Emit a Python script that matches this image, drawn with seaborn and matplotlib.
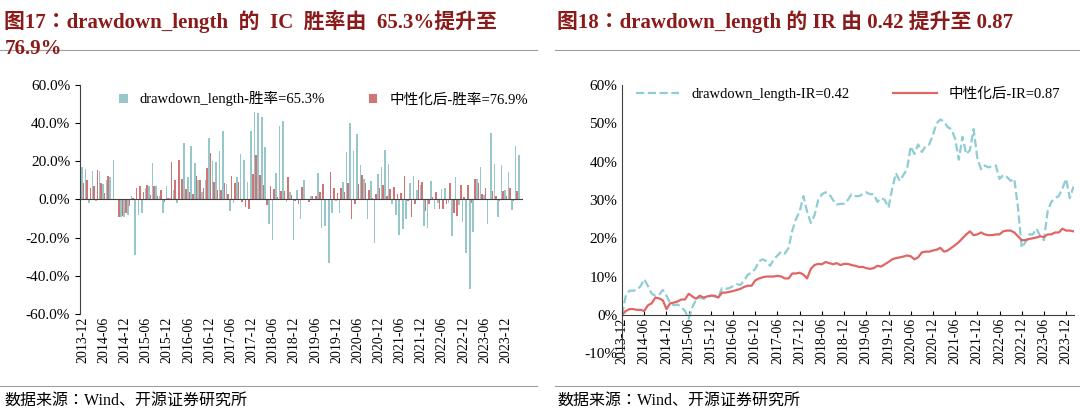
import matplotlib
matplotlib.use("Agg")
import matplotlib.pyplot as plt
from matplotlib import font_manager
import numpy as np
import pandas as pd
import seaborn as sns

# police CJK disponible (repli pour le chinois)
cjk = [f.name for f in font_manager.fontManager.ttflist if "CJK" in f.name]
cjk_name = "Noto Sans CJK SC" if "Noto Sans CJK SC" in cjk else (cjk[0] if cjk else "DejaVu Sans")
FONT = ["Liberation Serif", cjk_name]
plt.rcParams["font.family"] = FONT
plt.rcParams["axes.unicode_minus"] = False

BLUE = "#8ECDD4"
RED = "#E06565"
TITLE_COLOR = "#8B1A1A"

# ========== DONNEES ==========
# IC mensuel (%) - graphique de gauche
ic_raw = [17, 16, -2, 15, -1, 15, 8, 10, 12, 20.5, 0, -9, -9, -8, 2, -29, -8, -7, 6, 7,
          19, 7, 2, -7, 7, 1, 5, -2, 0, 29.5, 12, 28, 19, 10, 4, 10, 32.5, 20, 19.5, 25.5,
          36, 8, -6, -2, 12, 24, 20.5, 9, 36, 46, 45.5, 43.5, 27.5, -13, -21, 14, 38.5, 41, -1.5, 4,
          -21, 5, -10.5, 10, -0.5, 2, 0, 14, -15, -14, -33.5, -7, -1, -7, 9, 25, 40, 25.5, 34.5, 18,
          10.5, -10, 9.5, -23, 13.5, 17, 26, 18.5, -2.5, -8, -18.5, -15.5, -10, 8.5, 12.5, 5, 7.5, -14, -15, 9.5,
          -5, -2, 5.5, 6, -2, -19, 12, -3, -12, -28, -47, -17, 11, 17, 2.5, -13, 35, 18.5, -9, 18,
          5, 14.5, -5.5, 28, 23.5]
ic_neutral = [8.5, 10, 6, 7, 15.5, 8.5, 3.5, 12.5, 0, 0, -9, -8.5, -7, -3.5, 1, 6, 7, 4, 7.5, 2.5,
              7, 2, 5, -1.5, 1, 19.5, 10, 20.5, 11, 5.5, 4, 3, 12.5, 10, 6, 16.5, 24.5, 9, 5, 5,
              8.5, 3, 12.5, 8.5, 9, -1.5, -4, -5, 13.5, 23.5, 13, 7.5, -3, 7, 5.5, 1.5, 4.5, 4.5, 12, 2.5,
              -1, -2.5, 6.5, 0, -1.5, 2, 2, 4, 8, -0.5, 14.5, 6, 3.5, 6, 4, 8.5, -10.5, -2.5, 8, 13,
              8.5, 5, 1, 3, 6, 7.5, 2, 5.5, 6.5, 3, 3.5, 12.5, -1, -9, -2.5, 10, 9, -6, -2.5, 1.5,
              4, -5, -5, -2.5, 8.5, -7, -8.5, 7.5, 1.5, 7.5, -2, 11, 8.5, 3, 6, 0, 4.5, 2, -1, 4.5,
              2, 6, -1, 4.5, 0]

# Rendement cumule (%) - graphique de droite
ir_raw = [0, 5, 6.3, 6.3, 6.5, 7.5, 9.3, 7.5, 5.5, 5, 5.2, 6.5, 5,
          3, 2.5, 2.7, 2, 1, -1, 2, 4, 4.5, 4.2, 4.5, 5,
          4.8, 4.5, 7, 6.8, 7, 7.5, 8, 7.8, 9, 10.5, 11, 12,
          14, 14.5, 14, 12.8, 14.5, 15.5, 16.5, 16, 17.5, 22, 25, 27,
          31, 27, 24, 26, 30, 31.5, 32, 31.5, 30, 28.8, 29, 29,
          30, 31.5, 31, 31, 31.5, 32, 31.5, 31.5, 29.5, 30.5, 30, 28,
          33, 37, 35, 36.5, 38, 44, 42, 44.5, 42.5, 44, 44.5, 47,
          50, 51, 50.5, 49, 48.5, 46, 40.5, 46.5, 42, 43, 48.5, 41,
          38, 39, 38.5, 38.8, 39, 35.5, 36.5, 36, 35, 35.5, 28, 17.5,
          19, 21, 21, 22.5, 20.5, 19.5, 27, 29.5, 30.5, 31, 33, 35.5,
          30.5, 33.5]
ir_neutral = [0, 1, 1.5, 1.5, 1.3, 1.3, 1, 2.5, 3, 4.5, 4.3, 3.8, 1.5,
              3, 3.2, 3.5, 4, 4, 5.5, 4.8, 4.2, 5, 4.5, 4.8, 5,
              5, 4.5, 5.8, 5.8, 6, 6.2, 6.5, 6.8, 7.3, 7.6, 7.6, 9,
              9.5, 9.8, 10, 10, 10, 10.2, 10, 9.5, 9.5, 10.8, 10.8, 11,
              10.5, 9.5, 12, 13, 13.3, 13.2, 13.8, 13.5, 13.2, 13.5, 13, 13.3,
              13.3, 13, 12.8, 12.5, 12.5, 12.2, 12, 12.2, 12.8, 12.6, 13.2, 13.8,
              14.5, 14.8, 15, 15.2, 15.5, 15.3, 14.5, 15, 16.3, 16.5, 16.5, 16.8,
              17, 17.5, 16.5, 16.8, 17.5, 18.2, 19, 20, 21, 21.8, 20.8, 21,
              21.5, 21, 20.8, 20.8, 21, 21, 21.8, 22, 22, 21.5, 20.5, 19.5,
              19.5, 19.8, 20, 20.2, 20.5, 20.3, 21, 21, 21.5, 21.5, 22.5, 22,
              22, 21.8]

label_ic_raw = "drawdown_length-胜率=65.3%"
label_ic_neu = "中性化后-胜率=76.9%"
label_ir_raw = "drawdown_length-IR=0.42"
label_ir_neu = "中性化后-IR=0.87"


def mois(n):
    return pd.date_range("2013-12-01", periods=n, freq="MS").strftime("%Y-%m").tolist()


mois_ic = mois(len(ic_raw))
df_ic = pd.DataFrame({
    "mois": mois_ic + mois_ic,
    "val": ic_raw + ic_neutral,
    "serie": [label_ic_raw] * len(ic_raw) + [label_ic_neu] * len(ic_neutral),
})
mois_ir = mois(len(ir_raw))
df_ir = pd.DataFrame({"mois": mois_ir, label_ir_raw: ir_raw, label_ir_neu: ir_neutral})
df_ir["idx"] = np.arange(len(df_ir))

# ========== FIGURE ==========
fig = plt.figure(figsize=(10.8, 4.13), dpi=100)

# ---- gauche : barres ----
ax1 = fig.add_axes([0.074, 0.240, 0.41, 0.554])
sns.barplot(data=df_ic, x="mois", y="val", hue="serie", palette=[BLUE, RED],
            width=0.9, ax=ax1, legend=True)
ax1.set_ylim(-60, 60)
ax1.set_yticks(np.arange(-60, 61, 20))
ax1.set_yticklabels([f"{v:.1f}%" for v in np.arange(-60, 61, 20)], fontsize=11)
ax1.axhline(0, color="#404040", lw=0.8)
ticks = list(range(0, len(mois_ic), 6))
ax1.set_xticks(ticks)
ax1.set_xticklabels([mois_ic[i] for i in ticks], fontsize=10)
ax1.set_xlim(-0.8, len(mois_ic) - 0.2)
ax1.set_xlabel("")
ax1.set_ylabel("")
for s in ["top", "right", "bottom"]:
    ax1.spines[s].set_visible(False)
ax1.spines["left"].set_color("#404040")
ax1.tick_params(axis="x", length=0, pad=2)
ax1.legend(loc="upper center", ncol=2, frameon=False, fontsize=10.5,
           handlelength=0.6, handleheight=0.6, columnspacing=3, bbox_to_anchor=(0.55, 1.03))

# ---- droite : courbes ----
ax2 = fig.add_axes([0.576, 0.145, 0.418, 0.649])
sns.lineplot(data=df_ir, x="idx", y=label_ir_raw, color=BLUE, lw=1.6,
             linestyle="--", ax=ax2, label=label_ir_raw)
sns.lineplot(data=df_ir, x="idx", y=label_ir_neu, color=RED, lw=1.6,
             ax=ax2, label=label_ir_neu)
ax2.set_ylim(-10, 60)
ax2.set_yticks(np.arange(-10, 61, 10))
ax2.set_yticklabels([f"{v}%" for v in np.arange(-10, 61, 10)], fontsize=11)
ax2.set_xlim(0, len(mois_ir) - 1)
ticks2 = list(range(0, len(mois_ir), 6))
ax2.set_xticks(ticks2)
ax2.set_xticklabels([mois_ir[i] for i in ticks2], fontsize=10)
ax2.spines["bottom"].set_position(("data", 0))
ax2.spines["bottom"].set_color("#404040")
ax2.spines["left"].set_color("#404040")
for s in ["top", "right"]:
    ax2.spines[s].set_visible(False)
ax2.tick_params(axis="x", direction="in", length=3, pad=2)
ax2.tick_params(axis="y", length=0)
ax2.set_xlabel("")
ax2.set_ylabel("")
ax2.legend(loc="upper center", ncol=2, frameon=False, fontsize=10.5,
           handlelength=3, columnspacing=3, bbox_to_anchor=(0.5, 1.04))

for ax in (ax1, ax2):
    plt.setp(ax.get_xticklabels(), rotation=90, ha="center", va="top")

# ---- titres et sources ----
fig.text(0.004, 0.975, "图17：drawdown_length  的  IC  胜率由  65.3%提升至", fontsize=15,
         fontweight="bold", color=TITLE_COLOR, va="top")
fig.text(0.004, 0.905, "76.9%", fontsize=15, fontweight="bold", color=TITLE_COLOR, va="top")
fig.text(0.516, 0.975, "图18：drawdown_length 的 IR 由 0.42 提升至 0.87", fontsize=15,
         fontweight="bold", color=TITLE_COLOR, va="top")
for x0, x1 in [(0.0, 0.497), (0.514, 1.0)]:
    fig.add_artist(plt.Line2D([x0, x1], [0.878, 0.878], color="#A0A0A0", lw=0.8))
    fig.add_artist(plt.Line2D([x0, x1], [0.065, 0.065], color="#A0A0A0", lw=0.8))
fig.text(0.004, 0.03, "数据来源：Wind、开源证券研究所", fontsize=11.5, va="center")
fig.text(0.516, 0.03, "数据来源：Wind、开源证券研究所", fontsize=11.5, va="center")

fig.savefig("out.png", dpi=100)
